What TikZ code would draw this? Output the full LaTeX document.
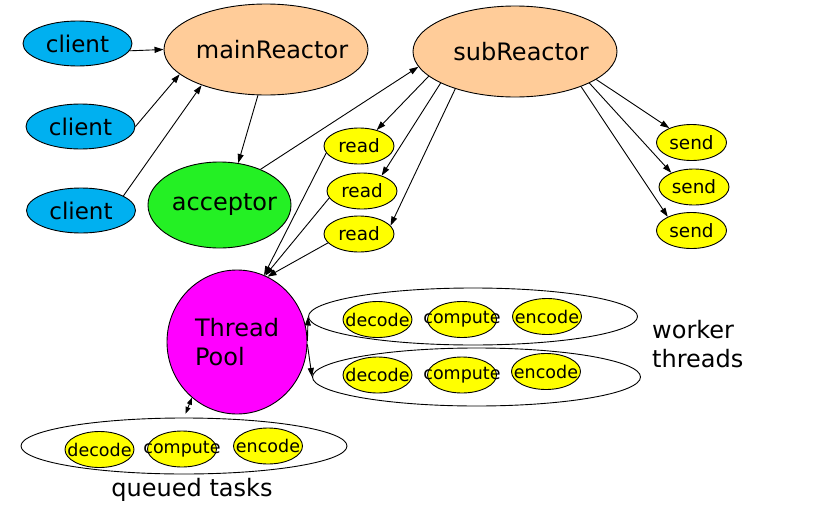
\documentclass[tikz,border=0pt]{standalone}
\usepackage{fontspec}
\setmainfont{DejaVu Sans}
\usetikzlibrary{shapes.geometric,arrows.meta}
\definecolor{cblue}{RGB}{0,176,240}
\definecolor{corange}{RGB}{255,204,153}
\definecolor{cgreen}{RGB}{36,240,36}
\definecolor{cmag}{RGB}{255,0,255}
\definecolor{cyel}{RGB}{255,255,0}
\newcommand\zw[1]{\makebox[0pt]{#1}}
\begin{document}
\begin{tikzpicture}[x=1pt,y=-1pt,
  ell/.style={ellipse, draw=black, line width=0.9pt, inner sep=0pt},
  bigfont/.style={font=\fontsize{24}{29}\selectfont},
  clientbox/.style={ell, fill=cblue, minimum width=109pt, minimum height=45pt, font=\fontsize{23}{27}\selectfont},
  reactor/.style={ell, fill=corange, minimum width=204pt, minimum height=91pt, bigfont},
  rsbox/.style={ell, fill=cyel, minimum width=70pt, minimum height=36pt, font=\fontsize{18.4}{22}\selectfont},
  taskbox/.style={ell, fill=cyel, minimum width=69pt, minimum height=36pt, font=\fontsize{17.5}{21}\selectfont},
  groupbox/.style={ell, fill=white, minimum width=329pt, minimum height=57pt},
  arr/.style={-{Triangle[length=9pt,width=6pt]}, line width=0.9pt},
  arrboth/.style={{Triangle[length=7pt,width=5pt]}-{Triangle[length=7pt,width=5pt]}, line width=0.9pt}
]
\useasboundingbox (0,0) rectangle (815,509);

% clients and reactors
\node[clientbox] (c1) at (77.5,43.5) {\zw{client}};
\node[clientbox] (c2) at (80.5,126.5) {\zw{client}};
\node[clientbox] (c3) at (81,210.5) {\zw{client}};
\node[reactor] (mr) at (266,49.5) {\zw{\hspace*{12pt}mainReactor}};
\node[reactor] (sr) at (515,51.5) {\zw{\hspace*{12pt}subReactor}};
\node[ell, fill=cgreen, minimum width=143pt, minimum height=86pt, bigfont] (acc) at (219.5,205) {\zw{\hspace*{10pt}acceptor}};

% read / send
\node[rsbox] (r1) at (359,146) {\zw{read}};
\node[rsbox] (r2) at (362,191) {\zw{read}};
\node[rsbox] (r3) at (359,234) {\zw{read}};
\node[rsbox] (s1) at (691.5,142.5) {\zw{send}};
\node[rsbox] (s2) at (694,187) {\zw{send}};
\node[rsbox] (s3) at (691.5,230.5) {\zw{send}};

% thread pool
\node[ell, fill=cmag, minimum width=140pt, minimum height=144pt, bigfont, align=left] (tp) at (237,342) {Thread\\Pool};

% worker threads
\node[groupbox] (w1) at (473,316.5) {};
\node[groupbox, minimum width=328pt, minimum height=58pt] (w2) at (476.5,377) {};
\node[taskbox] (d1) at (377.5,319.5) {\zw{decode}};
\node[taskbox] (p1) at (462,319.5) {\zw{compute}};
\node[taskbox] (e1) at (547,316.5) {\zw{encode}};
\node[taskbox] (d2) at (377.5,375) {\zw{decode}};
\node[taskbox] (p2) at (462,375) {\zw{compute}};
\node[taskbox] (e2) at (546,371.5) {\zw{encode}};
\node[bigfont, align=left, anchor=west, inner sep=0pt] (wt) at (652,344) {worker\\threads};

% queued tasks
\node[groupbox, minimum width=326pt, minimum height=56pt] (q) at (184,446) {};
\node[taskbox] (d3) at (99.5,449.5) {\zw{decode}};
\node[taskbox] (p3) at (182,449) {\zw{compute}};
\node[taskbox] (e3) at (268,446) {\zw{encode}};
\node[bigfont, anchor=base, inner sep=0pt] (qt) at (192,496) {queued tasks};

% connectors
\draw[arr] (c1.-8) -- (mr.west);
\draw[arr] (c2.east) -- (mr.196.5);
\draw[arr] (c3.19) -- (mr.209);
\draw[arr] (mr.260) -- (acc.66);
\draw[arr] (acc.41) -- (sr.189);
\draw[arr] (sr.196) -- (r1.42);
\draw[arr] (sr.203) -- (r2.38);
\draw[arr] (sr.212) -- (r3.15);
\draw[arr] (r1.192) -- (tp.68);
\draw[arr] (r2.192) -- (tp.67);
\draw[arr] (r3.196) -- (tp.65.5);
\draw[arr] (sr.-19) -- (s1.147);
\draw[arr] (sr.-23) -- (s2.148);
\draw[arr] (sr.-28) -- (s3.150);
\draw[arr] (tp.1.5) -- (w1.west);
\draw[arr] (tp.-2.5) -- (w2.west);
\draw[arrboth, shorten >=4pt] (tp.231) -- (q.north);
\end{tikzpicture}
\end{document}
